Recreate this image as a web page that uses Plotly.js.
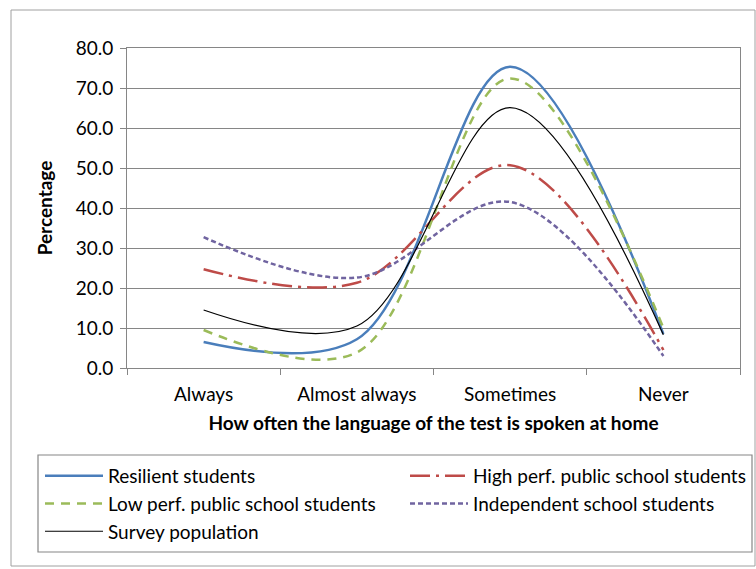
<!DOCTYPE html>
<html>
<head>
<meta charset="utf-8">
<script src="https://cdn.plot.ly/plotly-3.0.1.min.js"></script>
<style>html,body{margin:0;padding:0;background:#fff;}#chart{width:756px;height:569px;}</style>
</head>
<body>
<div id="chart"></div>
<script>
const categories = ["Always", "Almost always", "Sometimes", "Never"];
const resilient = [6.5, 7.2, 75.3, 8.5];
const highPerf = [24.7, 21.3, 50.7, 4.5];
const lowPerf = [9.5, 3.9, 72.4, 10.0];
const independent = [32.7, 22.6, 41.5, 3.0];
const survey = [14.5, 10.5, 65.1, 8.3];
const seriesNames = ["Resilient students", "High perf. public school students", "Low perf. public school students", "Independent school students", "Survey population"];

const FONT = "Lato, 'Open Sans', sans-serif";
function tr(name, y, color, width, dash) {
  return {x: categories, y: y, name: name, type: "scatter", mode: "lines",
    line: {color: color, width: width, dash: dash, shape: "spline", smoothing: 1}};
}
const data = [
  tr(seriesNames[0], resilient, "#4A7EBB", 2.5, "solid"),
  tr(seriesNames[1], highPerf, "#BE4B48", 2.5, "20px,6px,3px,6px"),
  tr(seriesNames[2], lowPerf, "#9BBB59", 2.5, "9px,7px"),
  tr(seriesNames[3], independent, "#7064A0", 2.5, "5px,3px"),
  tr(seriesNames[4], survey, "#000000", 1.2, "solid")
];
const PW = 613, PH = 320;
const layout = {
  width: 756, height: 569,
  margin: {l: 127, r: 16, t: 48, b: 201, autoexpand: false},
  paper_bgcolor: "#fff", plot_bgcolor: "#fff",
  font: {family: FONT, size: 19, color: "#000"},
  showlegend: true,
  xaxis: {
    type: "category", range: [-0.5, 3.5], tickson: "boundaries",
    ticks: "outside", ticklen: 6, tickcolor: "#868686", ticklabelstandoff: 9,
    showline: true, linecolor: "#868686", mirror: true, showgrid: false,
    tickfont: {family: FONT, size: 19, color: "#000"},
    title: {text: "<b>How often the language of the test is spoken at home</b>", font: {family: FONT, size: 19}, standoff: 12}
  },
  yaxis: {
    range: [0, 80], dtick: 10, tickformat: ".1f",
    ticks: "outside", ticklen: 6, tickcolor: "#868686", ticklabelstandoff: 3,
    showline: true, linecolor: "#868686", mirror: true,
    gridcolor: "#868686", gridwidth: 1, zeroline: false,
    tickfont: {family: FONT, size: 19, color: "#000"},
    title: {text: "<b>Percentage</b>", font: {family: FONT, size: 19}, standoff: 18}
  },
  legend: {
    orientation: "h", x: (40-127)/PW, xanchor: "left", y: (368-457)/PH, yanchor: "top",
    entrywidth: 292, entrywidthmode: "pixels", itemwidth: 58,
    font: {family: FONT, size: 19, color: "#000"},
    bgcolor: "rgba(0,0,0,0)", borderwidth: 0, traceorder: "normal"
  },
  shapes: [
    {type: "rect", xref: "paper", yref: "paper", x0: (38-127)/PW, x1: (752-127)/PW, y0: (368-552)/PH, y1: (368-455)/PH,
     line: {color: "#868686", width: 1.2}, fillcolor: "rgba(0,0,0,0)"},
    {type: "rect", xref: "paper", yref: "paper", x0: (11-127)/PW, x1: (755-127)/PW, y0: (368-566)/PH, y1: (368-10)/PH,
     line: {color: "#A0A0A0", width: 1}, fillcolor: "rgba(0,0,0,0)"}
  ]
};
Plotly.newPlot("chart", data, layout, {displayModeBar: false, staticPlot: true});
</script>
</body>
</html>
